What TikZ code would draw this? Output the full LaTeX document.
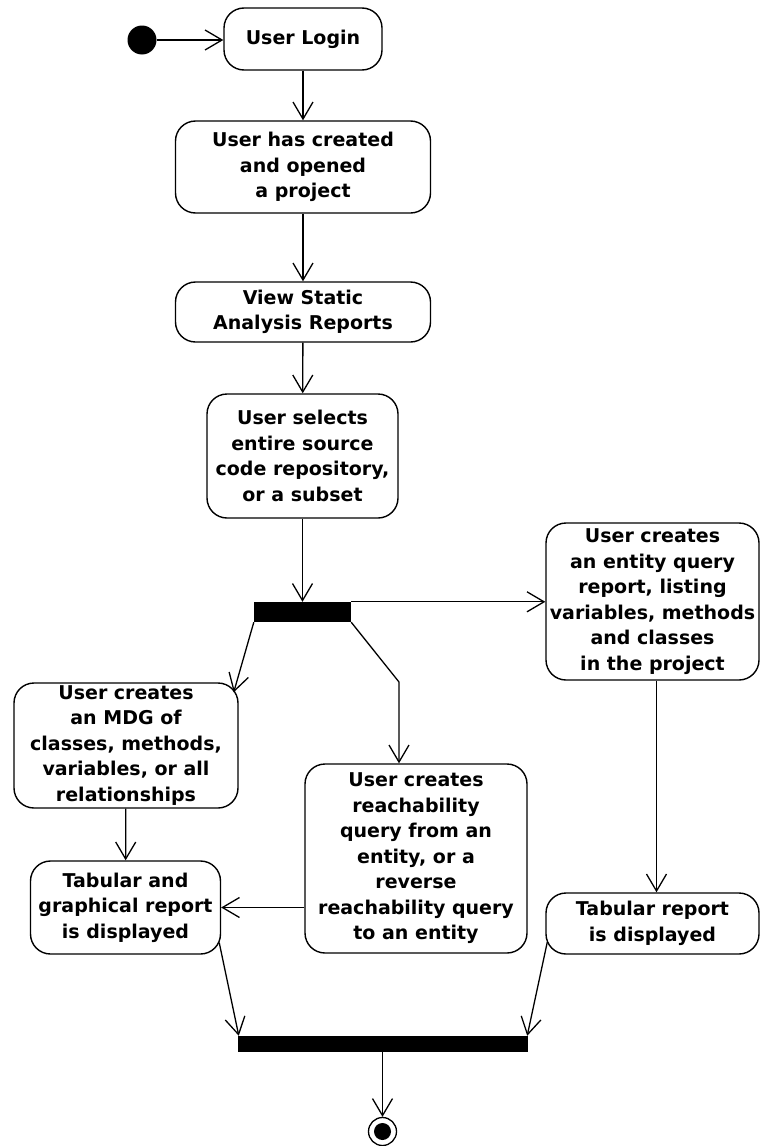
\documentclass[tikz,border=0pt]{standalone}
\usepackage{fontspec}
\setmainfont{DejaVu Sans}
\usetikzlibrary{arrows.meta}
\begin{document}
\begin{tikzpicture}[x=1pt,y=-1pt,
  act/.style={draw, line width=1.4pt, rounded corners=20pt, align=center,
    inner sep=0pt, font=\fontsize{19}{25.5}\selectfont\bfseries},
  syncbar/.style={fill=black, draw=none, inner sep=0pt},
  flow/.style={line width=1.3pt,
    -{Straight Barb[length=17pt,width=20pt,line width=1.3pt]}},
  plain/.style={line width=1.3pt}
]
\useasboundingbox (0,0) rectangle (760,1146);

% start and end markers
\node[circle, fill=black, inner sep=0pt, minimum size=29pt] (init) at (142,40) {};
\node[circle, draw, line width=1.3pt, fill=white, inner sep=0pt, minimum size=28pt] (final) at (382.5,1131.5) {};
\node[circle, fill=black, inner sep=0pt, minimum size=17pt] (finaldot) at (final.center) {};

% activities
\node[act, minimum width=158pt, minimum height=62pt] (login) at (303,39) {User Login};
\node[act, minimum width=255pt, minimum height=92pt] (created) at (303,167)
  {User has created\\and opened\\a project};
\node[act, minimum width=255pt, minimum height=60pt] (view) at (303,312)
  {View Static\\Analysis Reports};
\node[act, minimum width=191pt, minimum height=124pt] (selects) at (302.5,456)
  {User selects\\entire source\\code repository,\\or a subset};
\node[act, minimum width=213pt, minimum height=157pt] (entity) at (652.5,601.5)
  {User creates\\an entity query\\report, listing\\variables, methods\\and classes\\in the project};
\node[act, minimum width=224pt, minimum height=125pt] (mdg) at (126,745.5)
  {User creates\\an MDG of\\classes, methods,\\variables, or all\\relationships};
\node[act, minimum width=222pt, minimum height=189pt] (reach) at (416,858.5)
  {User creates\\reachability\\query from an\\entity, or a\\reverse\\reachability query\\to an entity};
\node[act, minimum width=190pt, minimum height=93pt] (tabgraph) at (125.5,907.5)
  {Tabular and\\graphical report\\is displayed};
\node[act, minimum width=213pt, minimum height=61pt] (tabrep) at (652.5,923.5)
  {Tabular report\\is displayed};

% fork and join bars
\node[syncbar, minimum width=97pt, minimum height=20pt] (fork) at (302.5,612) {};
\node[syncbar, minimum width=290pt, minimum height=16pt] (join) at (383,1044) {};

% control flow
\draw[flow] (init) -- (init -| login.west);
\draw[flow] (login) -- (created);
\draw[flow] (created) -- (view);
\draw[flow] (view) -- (selects);
\draw[flow] (selects) -- (fork);
\draw[flow] (fork.north east) -- (fork.north east -| entity.west);
\draw[flow] (fork.south west) -- ([shift={(-5,10)}]mdg.north east);
\coordinate (bendR) at (399,682);
\draw[flow] (fork.south east) -- (bendR) -- (bendR |- reach.north);
\draw[flow] (mdg) -- (tabgraph);
\draw[flow] (reach.west |- tabgraph.east) -- (tabgraph.east);
\draw[flow] ([xshift=4pt]entity.south) -- ([xshift=4pt]tabrep.north);
\draw[flow] ([shift={(-2,35)}]tabgraph.east) -- ([xshift=1pt]join.north west);
\draw[flow] ([shift={(2,18.5)}]tabrep.west) -- ([xshift=-1pt]join.north east);
\draw[flow] (join.south -| final) -- (final.north);
\end{tikzpicture}
\end{document}
